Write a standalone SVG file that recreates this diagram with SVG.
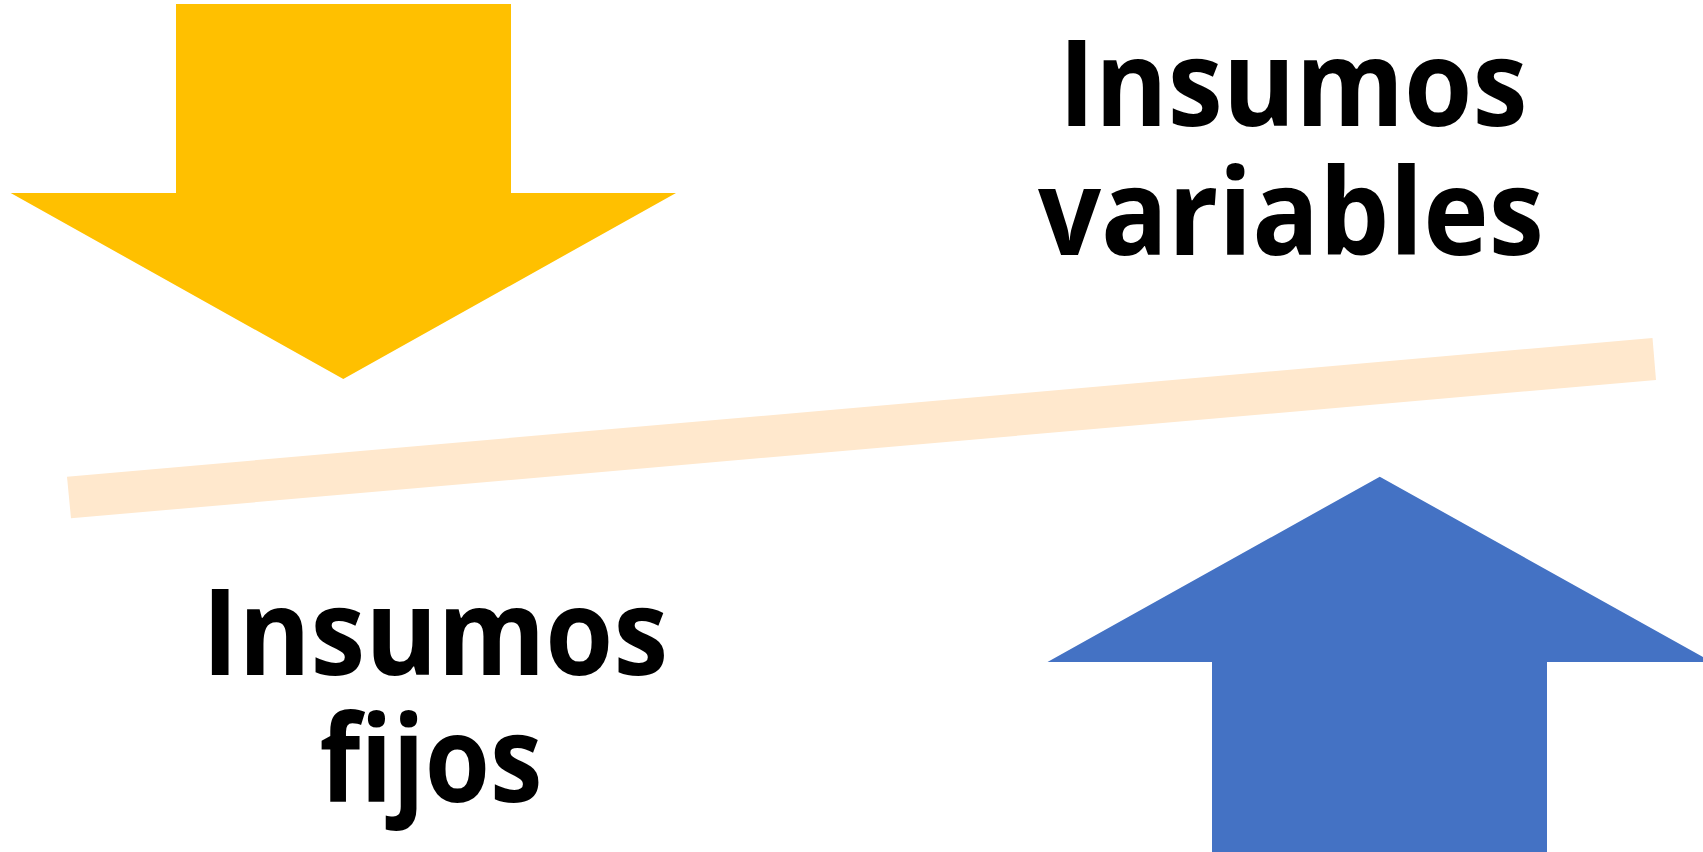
<svg xmlns="http://www.w3.org/2000/svg" width="1703" height="852" viewBox="0 0 1703 852">
<style>
.lbl{font-family:"Open Sans","Noto Sans","Liberation Sans",sans-serif;font-weight:bold;font-size:120px;fill:#000;text-anchor:middle}
</style>
<rect width="1703" height="852" fill="#fff"/>
<g id="beam"><polygon points="67,476.7 1652.5,338 1656,380 71,518.3" fill="#FFE8CD"/></g>
<g id="arrow-down"><polygon points="176,4 511,4 511,193 676,193 343.3,379 10.7,193 176,193" fill="#FFC000"/></g>
<g id="arrow-up"><polygon points="1212,852 1212,662 1047.5,662 1379.8,476.7 1712,662 1547,662 1547,852" fill="#4472C4"/></g>
<g id="label-variables">
<text class="lbl" x="1293" y="126" textLength="469" lengthAdjust="spacingAndGlyphs">Insumos</text>
<text class="lbl" x="1291" y="255" textLength="506" lengthAdjust="spacingAndGlyphs">variables</text>
</g>
<g id="label-fijos">
<text class="lbl" x="435" y="675" textLength="466" lengthAdjust="spacingAndGlyphs">Insumos</text>
<text class="lbl" x="431" y="802" textLength="223" lengthAdjust="spacingAndGlyphs">fijos</text>
</g>
<g id="connectors"></g>
</svg>
